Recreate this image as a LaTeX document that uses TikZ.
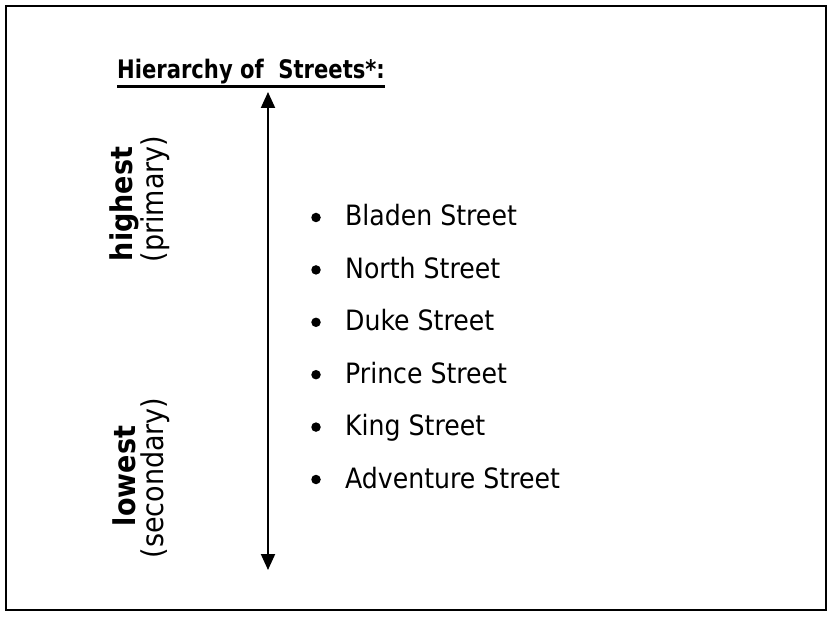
\documentclass[tikz,border=0pt]{standalone}
\usepackage{fontspec}
\setmainfont{DejaVu Sans Condensed}
\usetikzlibrary{arrows.meta}
\tikzset{
  item/.style={anchor=base west, inner sep=0pt, font=\fontsize{28}{32}\selectfont},
  dot/.style={circle, fill=black, inner sep=0pt, minimum size=9.5pt},
  vbold/.style={rotate=90, inner sep=0pt, font=\bfseries\fontsize{30}{34}\selectfont},
  vreg/.style={rotate=90, inner sep=0pt, font=\fontsize{30}{34}\selectfont},
  titlestyle/.style={anchor=base west, inner sep=0pt, font=\bfseries\addfontfeature{FakeStretch=0.92}\fontsize{25.5}{30}\selectfont},
  arr/.style={line width=2pt, {Triangle[length=16pt,width=14pt]}-{Triangle[length=16pt,width=14pt]}},
}
\begin{document}
\begin{tikzpicture}[x=1pt,y=-1pt]
\useasboundingbox (0,0) rectangle (833,620);
\draw[line width=2pt] (6,6) rectangle (826,610);
\node[titlestyle] (title) at (117,79) {Hierarchy of\ \ Streets*:};
\draw[line width=2.6pt] ([yshift=-1.5pt]title.south west) -- ([yshift=-1.5pt]title.south east);
\coordinate (top) at (268,92);
\coordinate (bot) at (268,570);
\draw[arr] (top) -- (bot);
\node[vbold] (hi) at (124,204) {highest};
\node[vreg] (pri) at (155,199) {(primary)};
\node[vbold] (lo) at (124,476) {lowest};
\node[vreg] (sec) at (155,478) {(secondary)};
\foreach \n/\t/\y in {b1/Bladen Street/226, b2/North Street/278.4, b3/Duke Street/330.8, b4/Prince Street/383.2, b5/King Street/435.6, b6/Adventure Street/488}{
  \node[dot] (d\n) at (316,\y-8.5) {};
  \node[item] (\n) at (345,\y) {\t};
}
\end{tikzpicture}
\end{document}
